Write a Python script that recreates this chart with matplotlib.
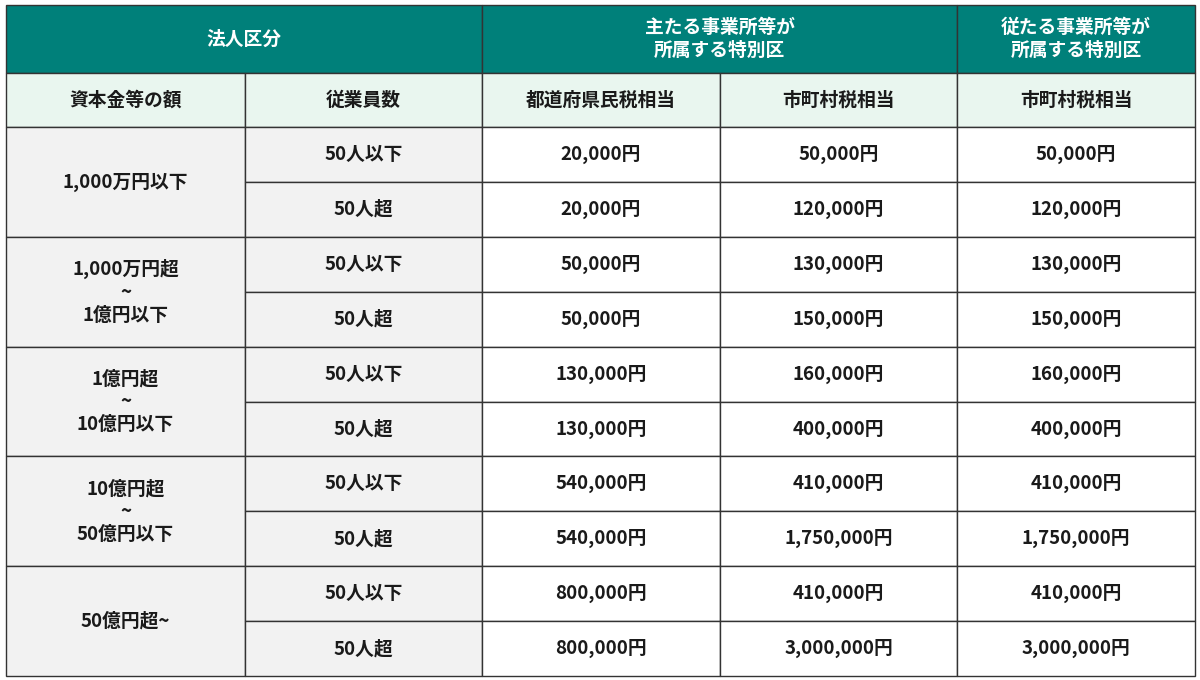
import matplotlib
matplotlib.use("Agg")
import matplotlib.pyplot as plt
from matplotlib.patches import Rectangle

plt.rcParams['font.family'] = ['Noto Sans CJK JP', 'DejaVu Sans']

top_header = ["法人区分", "主たる事業所等が\n所属する特別区", "従たる事業所等が\n所属する特別区"]
sub_header = ["資本金等の額", "従業員数", "都道府県民税相当", "市町村税相当", "市町村税相当"]
capital = ["1,000万円以下", "1,000万円超\n~\n1億円以下", "1億円超\n~\n10億円以下",
           "10億円超\n~\n50億円以下", "50億円超~"]
employees = ["50人以下", "50人超"]
pref_tax = ["20,000円", "20,000円", "50,000円", "50,000円", "130,000円", "130,000円",
            "540,000円", "540,000円", "800,000円", "800,000円"]
city_tax_main = ["50,000円", "120,000円", "130,000円", "150,000円", "160,000円", "400,000円",
                 "410,000円", "1,750,000円", "410,000円", "3,000,000円"]
city_tax_sub = ["50,000円", "120,000円", "130,000円", "150,000円", "160,000円", "400,000円",
                "410,000円", "1,750,000円", "410,000円", "3,000,000円"]

TEAL = "#00807a"
MINT = "#e9f6ef"
GRAY = "#f2f2f2"
EDGE = "#333333"

fig = plt.figure(figsize=(12, 6.8), dpi=100)
ax = fig.add_axes([0, 0, 1, 1])
ax.set_xlim(0, 1200)
ax.set_ylim(680, 0)
ax.axis("off")

xs = [6, 245, 482, 720, 957, 1195]
y0, y1, y2, yend = 5, 73, 127, 676
nb = 10
rh = (yend - y2) / nb

def cell(x0, x1, ya, yb, text, fc, color="#1a1a1a", size=13.5):
    ax.add_patch(Rectangle((x0, ya), x1 - x0, yb - ya, facecolor=fc, edgecolor=EDGE, lw=1.0))
    ax.text((x0 + x1) / 2, (ya + yb) / 2, text, ha="center", va="center", fontsize=size,
            fontweight="bold", color=color, linespacing=1.25)

# top header
cell(xs[0], xs[2], y0, y1, top_header[0], TEAL, "white")
cell(xs[2], xs[4], y0, y1, top_header[1], TEAL, "white")
cell(xs[4], xs[5], y0, y1, top_header[2], TEAL, "white")
# sub header
for i, t in enumerate(sub_header):
    cell(xs[i], xs[i + 1], y1, y2, t, MINT)
# body
for g, cap in enumerate(capital):
    ya = y2 + 2 * g * rh
    cell(xs[0], xs[1], ya, ya + 2 * rh, cap, GRAY)
for r in range(nb):
    ya = y2 + r * rh
    yb = ya + rh
    cell(xs[1], xs[2], ya, yb, employees[r % 2], GRAY)
    cell(xs[2], xs[3], ya, yb, pref_tax[r], "white")
    cell(xs[3], xs[4], ya, yb, city_tax_main[r], "white")
    cell(xs[4], xs[5], ya, yb, city_tax_sub[r], "white")

fig.savefig("out.png", dpi=100, facecolor="white")
